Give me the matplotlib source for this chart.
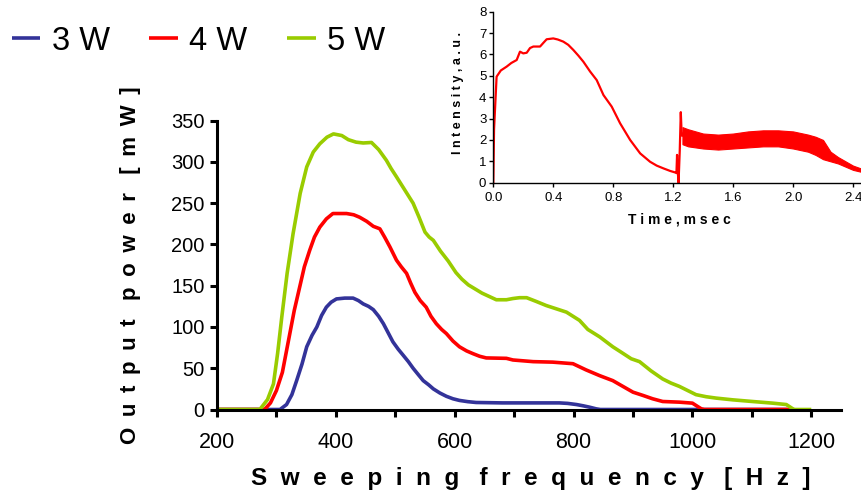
import matplotlib
matplotlib.use("Agg")
import matplotlib.pyplot as plt
import numpy as np

plt.rcParams['font.family'] = ['Liberation Sans', 'DejaVu Sans']

# ---- main chart data ----
freq_3w = [200, 300, 306, 317, 326, 334, 343, 351, 360, 368, 376, 384, 392, 401, 415, 429, 438, 446,
           455, 463, 472, 480, 488, 496, 505, 513, 522, 530, 539, 547, 556, 564, 575, 586, 597,
           608, 622, 636, 680, 776, 790, 805, 816, 827, 838, 845, 1160]
power_3w = [0, 0, 0, 6, 18, 35, 55, 76, 90, 100, 114, 124, 130, 134, 135, 135, 132, 128,
            125, 121, 113, 104, 93, 82, 73, 66, 58, 50, 42, 35, 30, 25, 20, 16, 13,
            11, 9.5, 8.5, 8, 8, 7.4, 6, 4.5, 2.8, 0.8, 0, 0]

freq_4w = [200, 280, 290, 300, 310, 322, 330, 339, 347, 356, 364, 373, 384, 395, 418, 430, 440, 452,
           463, 474, 482, 491, 502, 510, 519, 526, 533, 542, 552, 560, 569, 578, 586, 597, 608,
           620, 631, 642, 653, 687, 698, 732, 765, 799, 821, 844, 866, 883, 900, 917, 933,
           950, 978, 1000, 1008, 1015, 1020, 1170]
power_4w = [0, 0, 8, 23, 45, 90, 120, 148, 173, 193, 209, 221, 231, 237.5, 237.5, 236, 233, 228,
            222, 219, 209, 197, 181, 173, 165, 153, 142, 132, 124, 113, 104, 97, 92, 83, 76,
            71, 67.6, 64.5, 62.5, 62, 60, 58, 57.4, 55.5, 48, 41, 35, 28, 21, 17, 13,
            9.7, 8.9, 7.7, 4, 0.8, 0, 0]

freq_5w = [200, 272, 285, 295, 302, 309, 318, 328, 340, 351, 362, 373, 385, 396, 410, 421, 434, 446,
           460, 472, 485, 493, 502, 516, 530, 540, 550, 557, 564, 576, 589, 602, 612, 623, 646,
           670, 687, 698, 709, 721, 737, 754, 771, 788, 799, 810, 824, 844, 866, 880, 897,
           911, 930, 950, 964, 978, 992, 1006, 1023, 1040, 1068, 1101, 1135, 1158, 1169, 1172, 1200]
power_5w = [0, 0, 12, 31, 68, 112, 165, 213, 262, 294, 312, 322, 330, 334, 332, 327, 324, 323,
            323.6, 315, 302, 292, 282, 266, 250, 233, 215, 209, 205, 192, 180, 166, 158, 151, 141,
            133, 133, 134.5, 135.5, 135.5, 131, 126, 122, 118, 113, 108, 97, 88, 76, 69.5, 61.5,
            58, 47, 37, 32, 28, 23, 18, 15.5, 13.8, 11.7, 9.7, 7.7, 6, 0.8, 0, 0]

series_labels = ['3 W', '4 W', '5 W']
series_colors = ['#333399', '#FF0000', '#99CC00']

x_ticks = [200, 300, 400, 500, 600, 700, 800, 900, 1000, 1100, 1200]
x_ticklabels = ['200', '', '400', '', '600', '', '800', '', '1000', '', '1200']
y_ticks = [0, 50, 100, 150, 200, 250, 300, 350]

# ---- inset data ----
inset_t = [0.0, 0.005, 0.022, 0.05, 0.089, 0.12, 0.156, 0.178, 0.2, 0.223, 0.245, 0.267, 0.312,
           0.335, 0.356, 0.40, 0.43, 0.467, 0.50, 0.534, 0.567, 0.601, 0.646, 0.69, 0.735,
           0.79, 0.846, 0.913, 0.98, 1.046, 1.09, 1.135, 1.18, 1.213, 1.222, 1.226, 1.229,
           1.232, 1.236, 1.244, 1.251, 1.256, 1.262]
inset_i = [0.0, 2.5, 4.96, 5.25, 5.43, 5.6, 5.74, 6.13, 6.05, 6.08, 6.3, 6.37, 6.37,
           6.55, 6.71, 6.75, 6.7, 6.6, 6.45, 6.21, 5.95, 5.66, 5.2, 4.8, 4.1,
           3.56, 2.78, 2.0, 1.37, 0.98, 0.8, 0.67, 0.55, 0.48, 0.45, 1.3, 0.45,
           0.4, 0.0, 1.5, 3.3, 2.4, 2.2]
band_t = [1.262, 1.3, 1.4, 1.5, 1.6, 1.7, 1.8, 1.9, 2.0, 2.1, 2.15, 2.2, 2.25, 2.3, 2.35, 2.4, 2.46]
band_hi = [2.6, 2.5, 2.3, 2.25, 2.3, 2.4, 2.45, 2.45, 2.4, 2.25, 2.15, 2.0, 1.45, 1.2, 1.0, 0.8, 0.65]
band_lo = [1.8, 1.7, 1.6, 1.55, 1.6, 1.65, 1.7, 1.7, 1.6, 1.45, 1.3, 1.1, 1.0, 0.9, 0.75, 0.6, 0.5]
inset_xticks = [0.0, 0.4, 0.8, 1.2, 1.6, 2.0, 2.4]
inset_yticks = [0, 1, 2, 3, 4, 5, 6, 7, 8]


def spaced(s, gap=' ', wordgap='   '):
    return wordgap.join(gap.join(w) for w in s.split(' '))


fig = plt.figure(figsize=(8.62, 4.95), dpi=100)

ax = fig.add_axes([217 / 862, 1 - 409.5 / 495, (841 - 217) / 862, (409.5 - 120.7) / 495])
for fx, py, lab, col in zip([freq_3w, freq_4w, freq_5w], [power_3w, power_4w, power_5w],
                            series_labels, series_colors):
    ax.plot(fx, py, color=col, lw=2.6, label=lab, solid_capstyle='butt', solid_joinstyle='round')

ax.set_xlim(200, 1250)
ax.set_ylim(0, 350)
ax.spines['top'].set_visible(False)
ax.spines['right'].set_visible(False)
ax.spines['left'].set_linewidth(2.2)
ax.spines['bottom'].set_linewidth(2.2)
ax.spines['left'].set_bounds(0, 350)
ax.set_xticks(x_ticks)
ax.set_xticklabels(x_ticklabels)
ax.set_yticks(y_ticks)
ax.tick_params(axis='both', direction='out', length=5, width=2.2)
ax.tick_params(axis='y', labelsize=14.5, pad=4)
ax.tick_params(axis='x', labelsize=15.5, pad=11)
ax.set_xlabel(spaced('Sweeping frequency [Hz]', '  ', '   '),
              fontsize=17.5, fontweight='bold')
ax.xaxis.set_label_coords(0.503, -0.239)
ax.xaxis.label.set_va('center')
ax.set_ylabel(spaced('Output power [mW]', ' \u2009', '   '),
              fontsize=16, fontweight='bold')
ax.yaxis.set_label_coords(-0.139, 0.5)
ax.yaxis.label.set_va('center')

fig.legend(loc='upper left', bbox_to_anchor=(-0.009, 0.988), ncol=3, frameon=False,
           fontsize=23.5, handlelength=0.87, handletextpad=0.35, columnspacing=1.22,
           borderaxespad=0.2)

# ---- inset ----
ins = fig.add_axes([493.3 / 862, 1 - 182.7 / 495, (862 - 493.3) / 862, (182.7 - 11.7) / 495])
ins.patch.set_alpha(0)
ins.plot(inset_t, inset_i, color='#FF0000', lw=1.6)
ins.fill_between(band_t, band_lo, band_hi, color='#FF0000', lw=0.8, edgecolor='#FF0000')
ins.set_xlim(0, 2.46)
ins.set_ylim(0, 8)
ins.spines['top'].set_visible(False)
ins.spines['right'].set_visible(False)
ins.spines['left'].set_linewidth(1.0)
ins.spines['bottom'].set_linewidth(1.0)
ins.set_xticks(inset_xticks)
ins.set_xticklabels(['%.1f' % v for v in inset_xticks])
ins.set_yticks(inset_yticks)
ins.tick_params(axis='both', direction='out', length=3, width=1.0, pad=2)
ins.tick_params(axis='x', labelsize=9.5, pad=4)
ins.tick_params(axis='y', labelsize=9.5)
ins.set_xlabel(spaced('Time,msec', ' ', '  '), fontsize=10, fontweight='bold')
ins.xaxis.set_label_coords(0.506, -0.218)
ins.xaxis.label.set_va('center')
ins.set_ylabel(spaced('Intensity,a.u.', ' ', '  '), fontsize=9, fontweight='bold')
ins.yaxis.set_label_coords(-0.096, 0.525)
ins.yaxis.label.set_va('center')

fig.savefig('out.png', dpi=100)
